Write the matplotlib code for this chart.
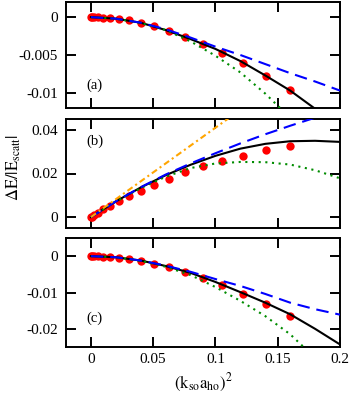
import matplotlib
matplotlib.use("Agg")
import matplotlib.pyplot as plt
from matplotlib.ticker import FixedLocator, FixedFormatter

plt.rcParams['font.family'] = ['Liberation Serif', 'DejaVu Serif']
plt.rcParams['mathtext.fontset'] = 'stix'
plt.rcParams['axes.unicode_minus'] = False

# ---- data ----
x_pts = [0.0, 0.000625, 0.0025, 0.005625, 0.01, 0.015625, 0.0225, 0.030625, 0.04,
         0.050625, 0.0625, 0.075625, 0.09, 0.105625, 0.1225, 0.140625, 0.16]
a_pts = [0.0, 0.0, -0.000003, -0.00002, -0.00005, -0.00011, -0.00025, -0.00043, -0.00074,
         -0.00118, -0.00184, -0.00258, -0.0035, -0.00468, -0.00609, -0.00776, -0.00964]
b_pts = [0.0, 0.0002, 0.0009, 0.002, 0.0035, 0.0053, 0.0072, 0.0095, 0.0122,
         0.0148, 0.0177, 0.0205, 0.0233, 0.0257, 0.0282, 0.0306, 0.0325]
c_pts = [0.0, 0.0, -0.00001, -0.00003, -0.0001, -0.0003, -0.0005, -0.0009, -0.0013,
         -0.0021, -0.0031, -0.0043, -0.0059, -0.0080, -0.0103, -0.0131, -0.0165]

x_curve = [0.0, 0.02, 0.04, 0.06, 0.08, 0.10, 0.12, 0.14, 0.16, 0.18, 0.20]

a_black = [0.0, -0.0002, -0.00074, -0.0017, -0.0029, -0.0042, -0.0058, -0.0077, -0.0097, -0.0121, -0.0148]
a_blue = [0.0, -0.0002, -0.00073, -0.0016, -0.0027, -0.0039, -0.0050, -0.0062, -0.0074, -0.0085, -0.0097]
a_green = [0.0, -0.0002, -0.00076, -0.0017, -0.0032, -0.0051, -0.0073, -0.0101, -0.0133]

b_black = [0.0, 0.0072, 0.0136, 0.0192, 0.0240, 0.0281, 0.0314, 0.0336, 0.0348, 0.0350, 0.0345]
b_blue = [0.0, 0.0072, 0.0137, 0.0195, 0.0246, 0.0293, 0.0338, 0.0380, 0.0419, 0.0456]
b_green = [0.0, 0.0071, 0.0133, 0.0185, 0.0225, 0.0246, 0.0253, 0.0252, 0.0241, 0.0215, 0.0178]
b_orange_x = [0.0, 0.12]
b_orange = [0.0, 0.0492]

c_black = [0.0, -0.0003, -0.0012, -0.0027, -0.0046, -0.0071, -0.0099, -0.0128, -0.0160, -0.0200, -0.0243]
c_blue = [0.0, -0.0003, -0.0012, -0.0026, -0.0043, -0.0063, -0.0082, -0.0104, -0.0128, -0.0146, -0.0161]
c_green = [0.0, -0.0003, -0.0013, -0.0029, -0.0052, -0.0085, -0.0123, -0.0165, -0.0215, -0.0280]

x_ticks = [0.0, 0.05, 0.1, 0.15, 0.2]
x_ticklabels = ["0", "0.05", "0.1", "0.15", "0.2"]
a_yticks = [0.0, -0.005, -0.01]
a_yticklabels = ["0", "-0.005", "-0.01"]
b_yticks = [0.0, 0.02, 0.04]
b_yticklabels = ["0", "0.02", "0.04"]
c_yticks = [0.0, -0.01, -0.02]
c_yticklabels = ["0", "-0.01", "-0.02"]
panel_labels = ["(a)", "(b)", "(c)"]

# ---- figure ----
W, H = 354, 399
fig = plt.figure(figsize=(W / 100, H / 100), dpi=100)

def ax_rect(top, bottom, left=66, right=340):
    return [left / W, 1 - bottom / H, (right - left) / W, (bottom - top) / H]

ax_a = fig.add_axes(ax_rect(2, 108))
ax_b = fig.add_axes(ax_rect(119, 228))
ax_c = fig.add_axes(ax_rect(238, 347))

lw = 1.5
dot_style = dict(linestyle='none', marker='o', markersize=6, color='#ff0000',
                 markeredgewidth=0, zorder=2)

def style(ax, yticks, yticklabels, ylim, label, ly, show_x):
    ax.set_xlim(-0.02, 0.2)
    ax.set_ylim(*ylim)
    ax.xaxis.set_major_locator(FixedLocator(x_ticks))
    if show_x:
        ax.xaxis.set_major_formatter(FixedFormatter(x_ticklabels))
    else:
        ax.set_xticklabels([])
    ax.yaxis.set_major_locator(FixedLocator(yticks))
    ax.yaxis.set_major_formatter(FixedFormatter(yticklabels))
    ax.tick_params(direction='in', top=True, right=True, length=7, width=1.4,
                   labelsize=11)
    ax.tick_params(axis='y', pad=6)
    ax.tick_params(axis='x', pad=4.5)
    for s in ax.spines.values():
        s.set_linewidth(1.4)
    ax.text(0.075, ly, label, transform=ax.transAxes, fontsize=10.5,
            ha='left', va='center')

# (a)
ax_a.plot(x_pts, a_pts, **dot_style)
ax_a.plot(x_curve, a_black, color='black', lw=lw, zorder=3)
ax_a.plot(x_curve[:len(a_green)], a_green, color='#008c00', lw=lw,
          linestyle=(0, (1, 2.2)), zorder=3)
ax_a.plot(x_curve, a_blue, color='#0000ff', lw=lw, linestyle=(0, (6, 3.3)), zorder=4)
style(ax_a, a_yticks, a_yticklabels, (-0.012, 0.002), panel_labels[0], 0.21, False)

# (b)
ax_b.plot(x_pts, b_pts, **dot_style)
ax_b.plot(x_curve, b_black, color='black', lw=lw, zorder=3)
ax_b.plot(x_curve, b_green, color='#008c00', lw=lw, linestyle=(0, (1, 2.2)), zorder=3)
ax_b.plot(x_curve[:len(b_blue)], b_blue, color='#0000ff', lw=lw,
          linestyle=(0, (6, 3.3)), zorder=4)
ax_b.plot(b_orange_x, b_orange, color='#ffa500', lw=lw,
          linestyle=(0, (3, 1.6, 1, 1.6)), zorder=4)
style(ax_b, b_yticks, b_yticklabels, (-0.005, 0.045), panel_labels[1], 0.80, False)

# (c)
ax_c.plot(x_pts, c_pts, **dot_style)
ax_c.plot(x_curve, c_black, color='black', lw=lw, zorder=3)
ax_c.plot(x_curve[:len(c_green)], c_green, color='#008c00', lw=lw,
          linestyle=(0, (1, 2.2)), zorder=3)
ax_c.plot(x_curve, c_blue, color='#0000ff', lw=lw, linestyle=(0, (6, 3.3)), zorder=4)
style(ax_c, c_yticks, c_yticklabels, (-0.025, 0.005), panel_labels[2], 0.26, True)

fig.text(203 / W, 1 - 383 / H, r'$(\mathrm{k_{so}a_{ho}})^2$', fontsize=12,
         ha='center', va='center')
fig.text(14 / W, 1 - 168 / H, r'$\Delta\mathrm{E}/|\mathrm{E}_{\mathrm{scatt}}|$',
         fontsize=12, rotation=90, ha='center', va='center')

fig.savefig('out.png', dpi=100)
